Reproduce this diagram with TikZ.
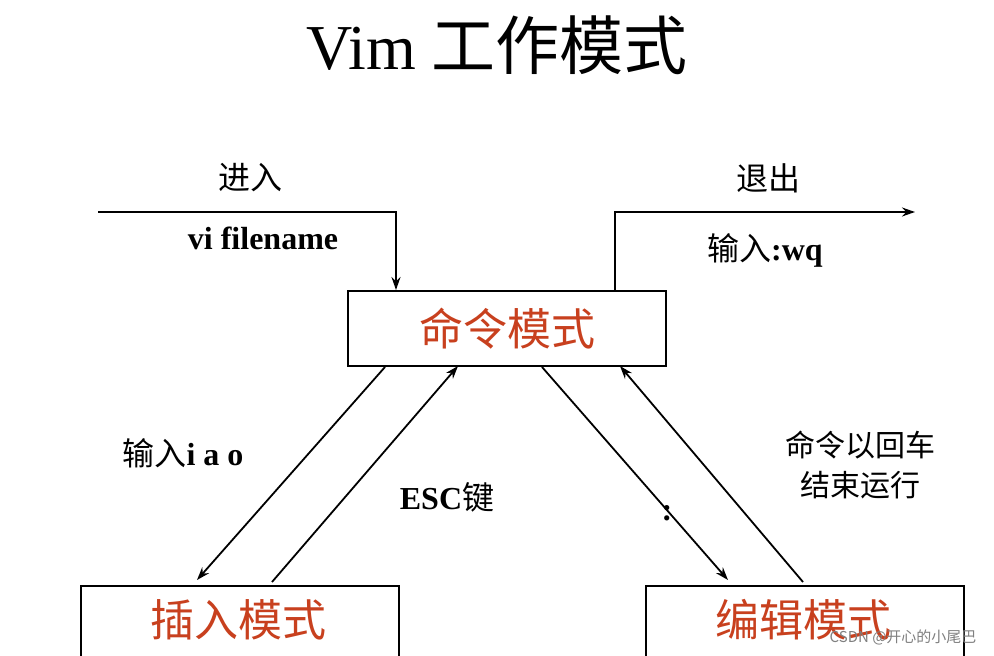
\documentclass[tikz,border=0pt]{standalone}
\usepackage{fontspec}
\setmainfont{Liberation Serif}
\newfontfamily\cjk{Noto Sans CJK SC}
\usetikzlibrary{arrows.meta}
\definecolor{modered}{HTML}{C8401E}
\begin{document}
\begin{tikzpicture}[x=1pt,y=-1pt,
  modebox/.style={draw,line width=2.2pt,minimum width=318pt,anchor=north west,inner sep=0pt},
  conn/.style={line width=1.8pt,-{Stealth[length=13pt,width=9pt]}},
  lbl/.style={font=\fontsize{32}{36}\selectfont\bfseries}]
\useasboundingbox (0,0) rectangle (994,656);
\clip (0,0) rectangle (994,656);
\fill[white] (0,0) rectangle (994,656);
\node (title) at (497,45) {\fontsize{64}{68}\selectfont Vim \cjk 工作模式};
\node[modebox,minimum height=75pt] (cmd) at (347,290) {};
\node[text=modered] (cmdt) at (cmd.center) {\cjk\fontsize{44}{48}\selectfont 命令模式};
\node[modebox,minimum height=90pt] (ins) at (80,585) {};
\node[text=modered] (inst) at (238,620) {\cjk\fontsize{44}{48}\selectfont 插入模式};
\node[modebox,minimum height=90pt] (edt) at (645,585) {};
\node[text=modered] (edtt) at (803,620) {\cjk\fontsize{44}{48}\selectfont 编辑模式};
\coordinate (inS) at (98,212);
\coordinate (inC) at (396,212);
\coordinate (outC) at (615,212);
\coordinate (outE) at (915,212);
\draw[conn] (inS) -- (inC) -- (inC |- cmd.north);
\draw[conn] (outC |- cmd.north) -- (outC) -- (outE);
\draw[conn] (385,367) -- (197,580);
\draw[conn] (272,582) -- (458,366);
\draw[conn] (542,367) -- (728,580);
\draw[conn] (803,582) -- (620,366);
\node[lbl] (l1) at (250,178) {\cjk\mdseries 进入};
\node[lbl] (l2) at (263,238) {vi filename};
\node[lbl] (l3) at (768,178) {\cjk\mdseries 退出};
\node[lbl] (l4) at (765,250) {{\cjk\mdseries 输入}:wq};
\node[lbl] (l5) at (183,453) {{\cjk\mdseries 输入}i a o};
\node[lbl] (l6) at (447,497) {ESC{\cjk\mdseries 键}};
\node[lbl,align=center,font=\cjk\fontsize{30}{40}\selectfont] (l7) at (860,465) {命令以回车\\结束运行};
\node[lbl] (l8) at (667,513) {:};
\node[text=gray,font=\cjk\fontsize{15}{17}\selectfont,anchor=east] (wm) at (980,637) {CSDN @开心的小尾巴};
\end{tikzpicture}
\end{document}
